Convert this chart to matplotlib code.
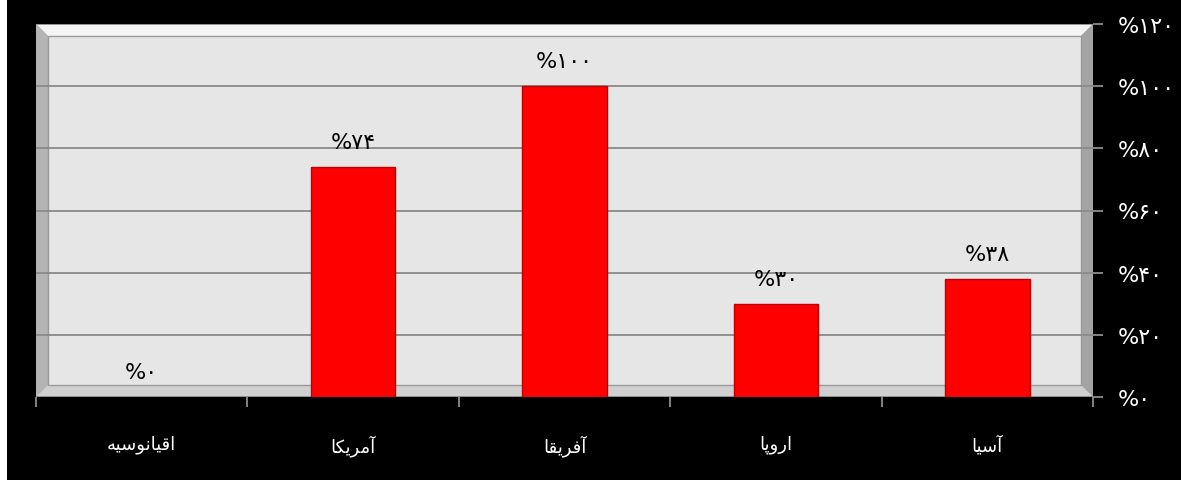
import matplotlib
matplotlib.use("Agg")
import matplotlib.pyplot as plt
from matplotlib.patches import Rectangle, Polygon
from matplotlib.ticker import FixedLocator

# data, left to right as in the picture
regions = ["اقیانوسیه", "آمریکا", "آفریقا", "اروپا", "آسیا"]
shares = [0, 74, 100, 30, 38]
yticks = [0, 20, 40, 60, 80, 100, 120]

# Persian letter forms (isolated, final, initial, medial) - matplotlib does no shaping
FORMS = {
    "ا": ("\uFE8D", "\uFE8E", None, None),
    "آ": ("\uFE81", "\uFE82", None, None),
    "و": ("\uFEED", "\uFEEE", None, None),
    "ر": ("\uFEAD", "\uFEAE", None, None),
    "ق": ("\uFED5", "\uFED6", "\uFED7", "\uFED8"),
    "ی": ("\uFBFC", "\uFBFD", "\uFBFE", "\uFBFF"),
    "ن": ("\uFEE5", "\uFEE6", "\uFEE7", "\uFEE8"),
    "س": ("\uFEB1", "\uFEB2", "\uFEB3", "\uFEB4"),
    "ه": ("\uFEE9", "\uFEEA", "\uFEEB", "\uFEEC"),
    "م": ("\uFEE1", "\uFEE2", "\uFEE3", "\uFEE4"),
    "ک": ("\uFB8E", "\uFB8F", "\uFB90", "\uFB91"),
    "ف": ("\uFED1", "\uFED2", "\uFED3", "\uFED4"),
    "پ": ("\uFB56", "\uFB57", "\uFB58", "\uFB59"),
}


def shape(word):
    out = []
    for i, ch in enumerate(word):
        f = FORMS[ch]
        prev = word[i - 1] if i > 0 else None
        nxt = word[i + 1] if i + 1 < len(word) else None
        jp = prev is not None and FORMS[prev][2] is not None
        jn = nxt is not None and f[2] is not None
        if jp and jn:
            g = f[3]
        elif jp:
            g = f[1]
        elif jn:
            g = f[2]
        else:
            g = f[0]
        out.append(g)
    return "".join(reversed(out))


FA_DIGITS = str.maketrans("0123456789", "۰۱۲۳۴۵۶۷۸۹")


def pct(v):
    return "%" + str(v).translate(FA_DIGITS)


plt.rcParams["font.family"] = ["DejaVu Sans"]

W, H = 1181, 481
fig = plt.figure(figsize=(W / 100, H / 100), dpi=100, facecolor="black")
# thin white strip on the left edge
fig.patches.append(Rectangle((0, 0), 7 / W, 1, transform=fig.transFigure,
                             facecolor="white", edgecolor="none"))

ax = fig.add_axes([36 / W, 83 / H, 1057 / W, 373 / H])
ax.set_xlim(-0.5, len(regions) - 0.5)
ax.set_ylim(0, 120)
ax.set_axisbelow(True)
ax.set_facecolor("#e6e6e6")

# 3D-ish frame around the plot area
fw = 12
dx = fw / 1057
dy = fw / 373
T = ax.transAxes
ax.add_patch(Rectangle((0, 0), 1, 1, transform=T, facecolor="#a8a8a8",
                       edgecolor="#8c8c8c", lw=1.2, zorder=0.1))
ax.add_patch(Polygon([(0, 1), (1, 1), (1 - dx, 1 - dy), (dx, 1 - dy)], transform=T,
                     facecolor="#f4f4f4", edgecolor="none", zorder=0.2))
ax.add_patch(Polygon([(0, 0), (dx, dy), (dx, 1 - dy), (0, 1)], transform=T,
                     facecolor="#b4b4b4", edgecolor="none", zorder=0.2))
ax.add_patch(Polygon([(1, 0), (1 - dx, dy), (1 - dx, 1 - dy), (1, 1)], transform=T,
                     facecolor="#a4a4a4", edgecolor="none", zorder=0.2))
ax.add_patch(Polygon([(0, 0), (1, 0), (1 - dx, dy), (dx, dy)], transform=T,
                     facecolor="#d0d0d0", edgecolor="none", zorder=0.2))
ax.add_patch(Rectangle((dx, dy), 1 - 2 * dx, 1 - 2 * dy, transform=T,
                       facecolor="#e6e6e6", edgecolor="#9a9a9a", lw=1, zorder=0.3))

ax.grid(axis="y", color="#8a8a8a", lw=1.3)
ax.grid(axis="x", visible=False)

x = range(len(regions))
edges = ["#c00000" if v > 0 else "none" for v in shares]
ax.bar(x, shares, width=0.4, color="#ff0000", edgecolor=edges, lw=1, zorder=2)

for i, v in zip(x, shares):
    ax.annotate(pct(v), (i, v), xytext=(0, 18), textcoords="offset points",
                ha="center", va="center", fontsize=16, color="black")

for s in ax.spines.values():
    s.set_visible(False)

ax.yaxis.tick_right()
ax.set_yticks(yticks)
ax.set_yticklabels([pct(v) for v in yticks])
ax.tick_params(axis="y", which="major", colors="#999999", length=7, width=1.2,
               pad=11, labelsize=16, labelcolor="white")

ax.set_xticks(list(x))
ax.set_xticklabels([shape(r) for r in regions])
ax.xaxis.set_minor_locator(FixedLocator([i - 0.5 for i in range(len(regions) + 1)]))
ax.tick_params(axis="x", which="major", length=0, pad=27, labelsize=13,
               labelcolor="white")
ax.tick_params(axis="x", which="minor", length=7, width=1.2, colors="#999999")

fig.savefig("out.png", dpi=100, facecolor="black")
